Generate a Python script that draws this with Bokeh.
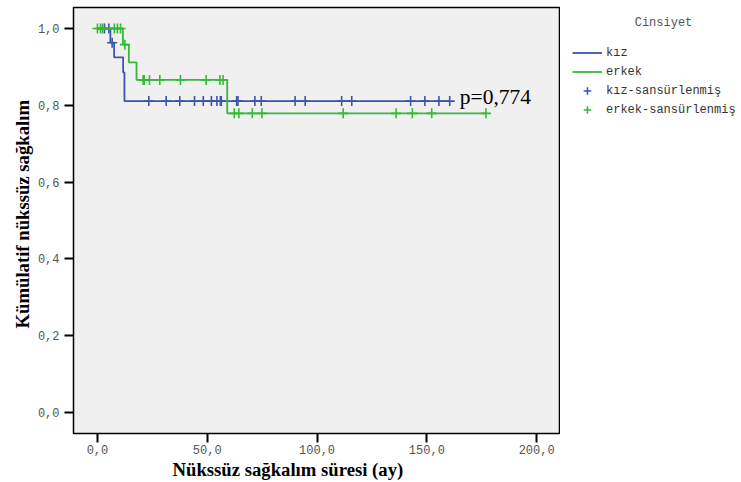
from math import pi

import numpy as np
from bokeh.embed import file_html
from bokeh.layouts import row
from bokeh.models import (ColumnDataSource, FixedTicker, Label, Legend,
                          LegendItem, Range1d, Title)
from bokeh.plotting import figure
from bokeh.resources import INLINE

# Kaplan–Meier estimates: event times (months) and survival after each event
kiz_event_times = [5.9, 7.6, 11.7, 12.3]
kiz_survival = [0.963, 0.925, 0.886, 0.811]
kiz_censored = [3.2, 5.2, 6.7, 23.4, 31.3, 37.5, 44.2, 48.2, 51.9, 54.4, 56.0,
                56.4, 63.4, 64.0, 71.7, 74.6, 90.0, 94.6, 111.2, 115.8, 142.6,
                149.1, 155.5, 160.4]

erkek_event_times = [11.6, 14.3, 17.8, 59.1]
erkek_survival = [0.958, 0.912, 0.866, 0.779]
erkek_censored = [0.0, 1.4, 2.3, 7.7, 9.1, 10.5, 12.5, 20.8, 21.3, 23.7, 28.4,
                  37.8, 49.5, 55.8, 57.2, 62.3, 64.4, 70.5, 74.9, 111.9, 136.0,
                  143.4, 152.2, 176.9]

group_names = ["kız", "erkek"]
censor_suffix = "-sansürlenmiş"
legend_title = "Cinsiyet"
p_value_text = "p=0,774"

x_ticks = [0, 50, 100, 150, 200]
x_tick_labels = ["0,0", "50,0", "100,0", "150,0", "200,0"]
y_ticks = [0.0, 0.2, 0.4, 0.6, 0.8, 1.0]
y_tick_labels = ["0,0", "0,2", "0,4", "0,6", "0,8", "1,0"]

x_title = "Nükssüz sağkalım süresi (ay)"
y_title = "Kümülatif nükssüz sağkalım"

BLUE = "#3C55A9"
GREEN = "#36B939"
MONO = "Liberation Mono"
SERIF = "Liberation Serif"


def km_step(event_times, survival, censored):
    """Step coordinates running from t=0 to the last follow-up time."""
    xs = [0.0] + list(event_times) + [max(censored)]
    ys = [1.0] + list(survival) + [survival[-1]]
    return xs, ys


def km_at(event_times, survival, times):
    """Survival estimate in force at each of the given times."""
    levels = np.array([1.0] + list(survival))
    idx = np.searchsorted(np.array(event_times), np.array(times), side="right")
    return levels[idx]


# ---- survival plot -------------------------------------------------------
p = figure(width=560, height=482, output_backend="svg", toolbar_location=None,
           x_range=Range1d(-10.9, 210.4), y_range=Range1d(-0.0547, 1.0547),
           min_border_left=73, min_border_right=1, min_border_top=7,
           min_border_bottom=49)

p.background_fill_color = "#F0F0F0"
p.border_fill_color = "white"
p.outline_line_color = "black"
p.outline_line_width = 1.5
p.xgrid.visible = False
p.ygrid.visible = False

for ax in (p.xaxis[0], p.yaxis[0]):
    ax.axis_line_color = None
    ax.major_tick_line_color = "black"
    ax.major_tick_line_width = 2
    ax.major_tick_out = 9
    ax.major_tick_in = 0
    ax.minor_tick_line_color = None
    ax.major_label_text_font = MONO
    ax.major_label_text_font_size = "12px"
    ax.major_label_text_color = "#555555"
    ax.major_label_standoff = 5
p.xaxis[0].major_label_standoff = 2

p.xaxis[0].ticker = FixedTicker(ticks=x_ticks)
p.xaxis[0].major_label_overrides = dict(zip(x_ticks, x_tick_labels))
p.yaxis[0].ticker = FixedTicker(ticks=y_ticks)
p.yaxis[0].major_label_overrides = dict(zip(y_ticks, y_tick_labels))

groups = [
    (kiz_event_times, kiz_survival, kiz_censored, BLUE),
    (erkek_event_times, erkek_survival, erkek_censored, GREEN),
]
for ev, sv, cen, color in groups:
    xs, ys = km_step(ev, sv, cen)
    p.step(xs, ys, mode="after", line_color=color, line_width=1.8)
    src = ColumnDataSource(dict(t=cen, s=km_at(ev, sv, cen)))
    p.scatter("t", "s", source=src, marker="cross", size=10,
              line_color=color, line_width=1.6)

p.add_layout(Label(x=165, y=0.821, text=p_value_text, text_font=SERIF,
                   text_font_size="21.5px", text_color="black",
                   text_baseline="alphabetic"))

p.add_layout(Title(text=x_title, align="left", offset=99, standoff=0,
                   text_font=SERIF, text_font_style="bold",
                   text_font_size="18.7px", text_color="black"), "below")
p.add_layout(Title(text=y_title, align="left", offset=105, standoff=4,
                   text_font=SERIF, text_font_style="bold",
                   text_font_size="18.7px", text_color="black"), "left")

# ---- legend panel --------------------------------------------------------
q = figure(width=181, height=482, output_backend="svg", toolbar_location=None,
           x_range=Range1d(0, 1), y_range=Range1d(0, 1),
           x_axis_location=None, y_axis_location=None,
           min_border_left=0, min_border_right=0, min_border_top=7,
           min_border_bottom=49)
q.outline_line_color = None
q.background_fill_color = "white"
q.border_fill_color = "white"
q.xgrid.visible = False
q.ygrid.visible = False

# key renderers carry a single NaN point so the legend can draw their glyphs
line_items, censor_items = [], []
for name, (_, _, _, color) in zip(group_names, groups):
    key_line = q.step(x=[np.nan], y=[np.nan], mode="after", line_color=color,
                      line_width=1.8)
    key_mark = q.scatter(x=[np.nan], y=[np.nan], marker="cross", size=10,
                         line_color=color, line_width=1.6)
    line_items.append(LegendItem(label=name, renderers=[key_line]))
    censor_items.append(LegendItem(label=name + censor_suffix,
                                   renderers=[key_mark]))

legend = Legend(items=line_items + censor_items, location=(12, 314),
                glyph_width=30, glyph_height=19, label_height=19,
                label_standoff=4, spacing=0, padding=0, margin=0,
                label_text_font=MONO, label_text_font_size="12px",
                label_text_color="#333333", border_line_color=None,
                background_fill_alpha=0)
q.add_layout(legend)

q.add_layout(Label(x=103, y=411, x_units="screen", y_units="screen",
                   text=legend_title, text_font=MONO, text_font_size="12px",
                   text_color="#555555", text_align="center",
                   text_baseline="middle"))

open("out.html", "w").write(file_html(row(p, q), INLINE))
